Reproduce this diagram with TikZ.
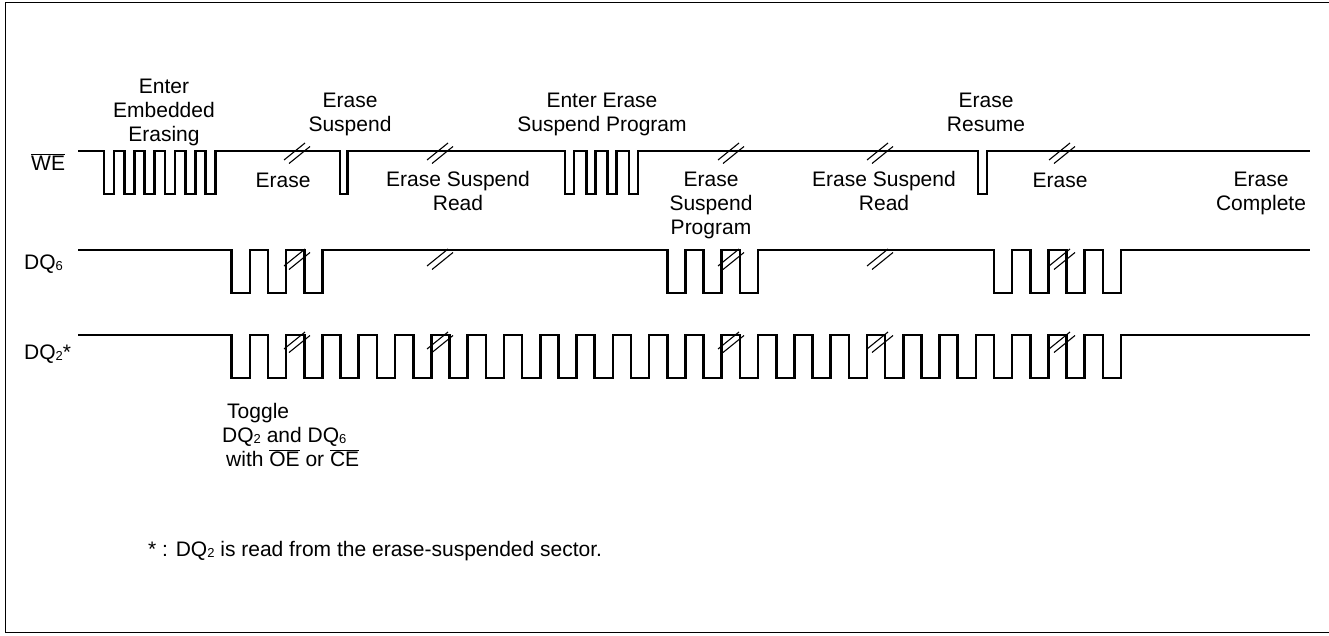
\documentclass[tikz,border=0pt]{standalone}
\usepackage{fontspec}
\setmainfont{Liberation Sans}
\usepackage{tikz}
\usetikzlibrary{positioning}

% small digit used as index in DQ names
\newcommand{\idx}[1]{{\fontsize{13}{13}\selectfont\raisebox{-1pt}{#1}}}
% overlined signal name
\newcommand{\ovl}[1]{$\overline{\mbox{#1}}$}

\tikzset{
  sig/.style = {line width=2.6pt, line join=miter},
  brk/.style = {line width=1.1pt},
  lbl/.style = {align=center, inner sep=0pt},
}

\begin{document}
\begin{tikzpicture}[x=1pt, y=-1pt, font=\fontsize{21}{24}\selectfont]
        %define levels of the three lines, toggle start and half period
        \def\hiW{151}  \def\loW{194}
        \def\hiS{250}  \def\loS{293}
        \def\hiT{335}  \def\loT{378}
        \def\xz{231.7}
        \def\hp{18.15}

        \useasboundingbox (0,0) rectangle (1329,635);
        % frame
        \draw[line width=1pt] (1340,2.5) -- (5.5,2.5) -- (5.5,632.5) -- (1340,632.5);

        % WE line with its write pulses
        \draw[sig] (78,\hiW)
            \foreach \a/\w in {104/10, 124.3/10, 144.6/10, 164.9/10, 185.2/10, 205.5/10,
                               340/7.7,
                               565/9, 586.3/9, 607.6/9, 628.9/9,
                               978/9}
            { -- (\a,\hiW) -- (\a,\loW) -- (\a+\w,\loW) -- (\a+\w,\hiW) }
            -- (1310,\hiW);

        % DQ6, toggles only while the device is busy
        \draw[sig] (78,\hiS)
            \foreach \p in {0,1,2,12,13,14,21,22,23,24}
            { -- ({\xz+2*\p*\hp},\hiS) -- ({\xz+2*\p*\hp},\loS)
              -- ({\xz+(2*\p+1)*\hp},\loS) -- ({\xz+(2*\p+1)*\hp},\hiS) }
            -- (1310,\hiS);

        % DQ2, toggles all the way
        \draw[sig] (78,\hiT)
            \foreach \p in {0,...,24}
            { -- ({\xz+2*\p*\hp},\hiT) -- ({\xz+2*\p*\hp},\loT)
              -- ({\xz+(2*\p+1)*\hp},\loT) -- ({\xz+(2*\p+1)*\hp},\hiT) }
            -- (1310,\hiT);

        % time break marks
        \foreach \c in {297,440,731,880,1062}{
            \foreach \y/\o in {\hiW/9, \hiS/16, \hiT/14}{
                \draw[brk] (\c-13,\y+\o) -- ++(21,-17);
                \draw[brk] (\c-8,\y+\o+3.5) -- ++(21,-17);
            }
        }

        % signal names
        \node[anchor=base west, inner sep=0pt] (we)  at (31,170) {\ovl{WE}};
        \node[anchor=base west, inner sep=0pt] (dqs) at (24,269) {DQ\idx{6}};
        \node[anchor=base west, inner sep=0pt] (dqt) at (24,359) {DQ\idx{2}*};

        % labels above WE (base = last line)
        \node[lbl, anchor=base] (ent) at (164,141) {Enter\\Embedded\\Erasing};
        \node[lbl, anchor=base] (sus) at (350,131) {Erase\\Suspend};
        \node[lbl, anchor=base] (esp) at (602,131) {Enter Erase\\Suspend Program};
        \node[lbl, anchor=base] (res) at (986,131) {Erase\\Resume};

        % labels below WE
        \node[lbl, anchor=base] (er1) at (283,187) {Erase};
        \node[lbl, anchor=base] (rd1) at (458,210) {Erase Suspend\\Read};
        \node[lbl, anchor=base] (prg) at (711,234) {Erase\\Suspend\\Program};
        \node[lbl, anchor=base] (rd2) at (884,210) {Erase Suspend\\Read};
        \node[lbl, anchor=base] (er2) at (1060,187) {Erase};
        \node[lbl, anchor=base] (cpl) at (1261,210) {Erase\\Complete};

        % toggle note
        \node[anchor=base west, inner sep=0pt] (tg1) at (227,418) {Toggle};
        \node[anchor=base west, inner sep=0pt] (tg2) at (222,442) {DQ\idx{2} and DQ\idx{6}};
        \node[anchor=base west, inner sep=0pt] (tg3) at (226,466) {with \ovl{OE} or \ovl{CE}};

        % footnote
        \node[anchor=base west, inner sep=0pt] (fn) at (148,556) {* : DQ\idx{2} is read from the erase-suspended sector.};
\end{tikzpicture}
\end{document}
